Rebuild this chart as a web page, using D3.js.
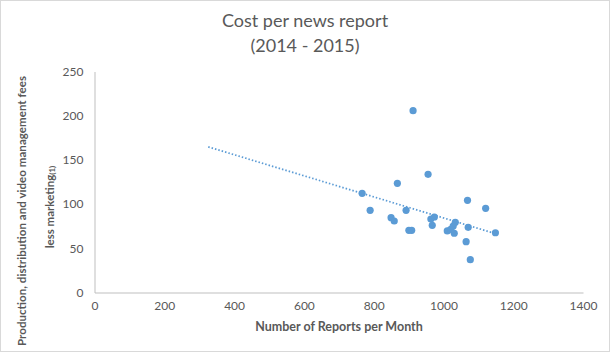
<!DOCTYPE html>
<html>
<head>
<meta charset="utf-8">
<script src="https://cdnjs.cloudflare.com/ajax/libs/d3/7.8.5/d3.min.js"></script>
<style>
  body { margin: 0; background: #fff; }
  svg { display: block; font-family: Lato, "Open Sans", sans-serif; }
</style>
</head>
<body>
<div id="chart"></div>
<script>
"use strict";

// data
const reportsPerMonth = [913, 956, 868, 767, 790, 893, 850, 859, 901, 909, 964, 974,
  968, 1034, 1028, 1011, 1021, 1031, 1069, 1071, 1065, 1077, 1121, 1149];
const costPerReport = [205.7, 133.7, 123.5, 112.2, 93, 93, 84.6, 80.9, 70.3, 70.3, 83.1, 85.4,
  76, 79.4, 75.2, 69.6, 71.5, 67, 104.3, 73.7, 57.5, 37.1, 95.2, 67.6];
const xTicks = [0, 200, 400, 600, 800, 1000, 1200, 1400];
const yTicks = [0, 50, 100, 150, 200, 250];
// linear trendline, forecast backward to this x
const trendFrom = 326;

const w = 610;
const h = 352;
const margin = { top: 71.5, right: 27, bottom: 59.5, left: 94.5 };
const textColor = '#595959';
const dotColor = '#5b9bd5';

const svg = d3.select('#chart').append('svg')
  .attr('width', w)
  .attr('height', h);

// outer frame
svg.append('rect')
  .attr('x', 0.5)
  .attr('y', 0.5)
  .attr('width', w - 1)
  .attr('height', h - 1)
  .attr('fill', '#fff')
  .attr('stroke', '#d9d9d9');

const x = d3.scaleLinear()
  .domain([0, 1400])
  .range([margin.left, w - margin.right]);
const y = d3.scaleLinear()
  .domain([0, 250])
  .range([h - margin.bottom, margin.top]);

// title
const title = svg.append('text')
  .attr('text-anchor', 'middle')
  .attr('fill', textColor)
  .style('font-size', '18px');
title.append('tspan').attr('x', 305).attr('y', 27).text('Cost per news report');
title.append('tspan').attr('x', 305).attr('y', 52).text('(2014 - 2015)');

// axes
const xAxis = svg.append('g')
  .attr('transform', `translate(0, ${y(0)})`)
  .call(d3.axisBottom(x).tickValues(xTicks).tickFormat(d3.format('d')).tickSize(0).tickPadding(9));
const yAxis = svg.append('g')
  .attr('transform', `translate(${x(0)}, 0)`)
  .call(d3.axisLeft(y).tickValues(yTicks).tickFormat(d3.format('d')).tickSize(0).tickPadding(11));

[xAxis, yAxis].forEach(function(g) {
  g.select('.domain').attr('stroke', '#bfbfbf');
  g.selectAll('text')
    .attr('fill', textColor)
    .style('font-size', '12px')
    .style('font-family', 'Lato, "Open Sans", sans-serif');
});

// axis titles
svg.append('text')
  .attr('x', 339)
  .attr('y', 331)
  .attr('text-anchor', 'middle')
  .attr('fill', textColor)
  .style('font-size', '12.5px')
  .style('font-weight', 'bold')
  .text('Number of Reports per Month');

const yLabel = svg.append('text')
  .attr('transform', 'translate(26, 211) rotate(-90)')
  .attr('text-anchor', 'middle')
  .attr('fill', textColor)
  .style('font-size', '11.5px')
  .style('font-weight', 'bold');
yLabel.append('tspan')
  .attr('x', 0)
  .attr('y', 0)
  .attr('textLength', 270)
  .attr('lengthAdjust', 'spacing')
  .text('Production, distribution and video management fees');
const yLabel2 = svg.append('text')
  .attr('transform', 'translate(54, 207) rotate(-90)')
  .attr('text-anchor', 'middle')
  .attr('fill', textColor)
  .style('font-size', '11.5px')
  .style('font-weight', 'bold');
yLabel2.append('tspan').text('less marketing');
yLabel2.append('tspan')
  .attr('dy', 1)
  .style('font-size', '8px')
  .text('(1)');

// least squares trendline
const points = reportsPerMonth.map(function(r, i) {
  return { x: r, y: costPerReport[i] };
});
const mx = d3.mean(points, function(d) { return d.x; });
const my = d3.mean(points, function(d) { return d.y; });
const slope = d3.sum(points, function(d) { return (d.x - mx) * (d.y - my); }) /
  d3.sum(points, function(d) { return (d.x - mx) * (d.x - mx); });
const intercept = my - slope * mx;
const trendTo = d3.max(reportsPerMonth);

svg.append('line')
  .attr('x1', x(trendFrom))
  .attr('y1', y(intercept + slope * trendFrom))
  .attr('x2', x(trendTo))
  .attr('y2', y(intercept + slope * trendTo))
  .attr('stroke', dotColor)
  .attr('stroke-width', 1.75)
  .attr('stroke-dasharray', '1.5,2');

svg.append('g')
  .selectAll('circle')
  .data(points)
  .enter().append('circle')
  .attr('cx', function(d) { return x(d.x); })
  .attr('cy', function(d) { return y(d.y); })
  .attr('r', 3.6)
  .attr('fill', dotColor);
</script>
</body>
</html>
